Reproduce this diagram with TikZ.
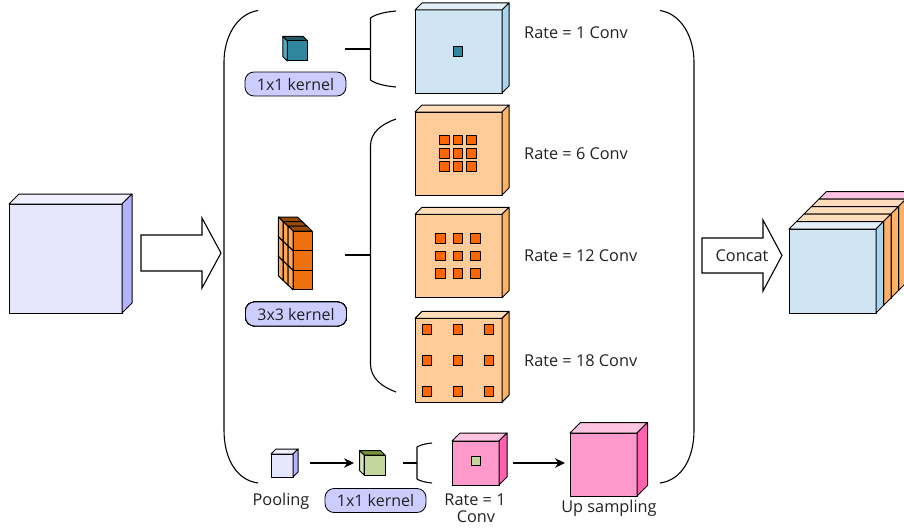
\documentclass[tikz,border=0pt]{standalone}
\usepackage{fontspec}
\setmainfont{Open Sans}
\usetikzlibrary{calc,arrows.meta}
\definecolor{inputfront}{HTML}{E6E6FF}
\definecolor{inputtop}{HTML}{F0F0FF}
\definecolor{inputside}{HTML}{B3B3FF}
\definecolor{bluefront}{HTML}{CFE5F3}
\definecolor{bluetop}{HTML}{E3F0F9}
\definecolor{blueside}{HTML}{A8D4EE}
\definecolor{orangefront}{HTML}{FFCC99}
\definecolor{orangetop}{HTML}{FFDDBB}
\definecolor{orangeside}{HTML}{FFB266}
\definecolor{pinkfront}{HTML}{FF99CC}
\definecolor{pinktop}{HTML}{FFC4E1}
\definecolor{pinkside}{HTML}{FF62AE}
\definecolor{tealfront}{HTML}{31859C}
\definecolor{tealtop}{HTML}{215968}
\definecolor{tealside}{HTML}{4BACC6}
\definecolor{greenfront}{HTML}{C3D69B}
\definecolor{greentop}{HTML}{77933C}
\definecolor{greenside}{HTML}{D7E4BD}
\definecolor{rustfront}{HTML}{EE7110}
\definecolor{rusttop}{HTML}{984807}
\definecolor{rustside}{HTML}{FFA85C}
\definecolor{kernelfill}{HTML}{CCCCFF}
\definecolor{dotfill}{HTML}{FF6600}
\definecolor{ink}{HTML}{222222}
\tikzset{
  face/.style={draw,inner sep=0pt,outer sep=0pt},
  edge/.style={line width=1pt,draw=black,line join=round},
  brace/.style={line width=1.1pt},
  kernel/.style={draw,line width=0.8pt,fill=kernelfill,rounded corners=9pt,minimum width=101pt,minimum height=24pt,inner sep=0pt,text=ink,font=\fontsize{16}{18}\selectfont},
  label/.style={inner sep=0pt,text=ink,font=\fontsize{16.3}{18}\selectfont},
  dot/.style={edge,fill=dotfill,minimum size=9.5pt,inner sep=0pt,outer sep=0pt},
  bigarrow/.style={line width=1.1pt,fill=white,line join=miter},
  flow/.style={-{Stealth[length=10pt,width=9.5pt]},line width=1.1pt},
}
\newcommand{\cuboid}[8]{
  \node[face,edge,fill=#6,minimum width=#3pt,minimum height=#4pt] (#1) at (#2) {};
  \draw[edge,fill=#7] (#1.north west) -- ++(#5,-#5) -- ($(#1.north east)+(#5,-#5)$) -- (#1.north east) -- cycle;
  \draw[edge,fill=#8] (#1.north east) -- ++(#5,-#5) -- ($(#1.south east)+(#5,-#5)$) -- (#1.south east) -- cycle;
}
\newcommand{\cuboidleft}[8]{
  \draw[edge,fill=#7] (#2)++(-#3/2,-#4/2) -- ++(-#5,-#5) -- ++(#3,0) -- ++(#5,#5) -- cycle;
  \draw[edge,fill=#8] (#2)++(-#3/2,-#4/2) -- ++(-#5,-#5) -- ++(0,#4) -- ++(#5,#5) -- cycle;
  \node[face,edge,fill=#6,minimum width=#3pt,minimum height=#4pt] (#1) at (#2) {};
}
\begin{document}
\begin{tikzpicture}[x=1pt,y=-1pt]
\path[use as bounding box,clip] (0,0) rectangle (904,527);

\cuboid{input}{65.5,258.5}{113}{109}{10}{inputfront}{inputtop}{inputside}
\draw[bigarrow] (141,235) -- (202,235) -- (202,218) -- (221,253) -- (202,288) -- (202,271) -- (141,271) -- cycle;

\draw[brace] (258,10.5) .. controls (236,14) and (224,38) .. (224,62) -- (224,430) .. controls (224,458) and (236,480) .. (258,483);
\draw[brace] (660,10.5) .. controls (682,14) and (694,38) .. (694,62) -- (694,430) .. controls (694,458) and (682,480) .. (660,483);

\cuboidleft{kernela}{297.5,51}{20.5}{20}{4.5}{tealfront}{tealtop}{tealside}
\node[kernel] (kernelone) at (295.5,84) {1x1 kernel};
\coordinate (stema) at (345,49);
\coordinate (bracea) at (370.5,49);
\draw[brace] (stema) -- (bracea);
\draw[brace] (396,11) .. controls (385,12) and (376,14) .. (370.5,18) -- (370.5,80) .. controls (376,84) and (385,86) .. (396,87);

\cuboid{ratea}{458.5,51.5}{87}{83}{7}{bluefront}{bluetop}{blueside}
\node[face,edge,fill=tealfront,minimum size=9.5pt] (centera) at (458,51.5) {};
\node[label,anchor=west] (ratealabel) at (524,33) {Rate = 1 Conv};

\foreach \layer in {2,1,0}
  \foreach \row in {2,1,0}
    \cuboidleft{stack\layer\row}{$(302.5,240.8)+(-\layer*4.9,\row*19.6-\layer*4.6)$}{19}{19.6}{4.8}{rustfront}{rusttop}{rustside}
\node[kernel] (kernelthree) at (296,314) {3x3 kernel};
\coordinate (stemb) at (345,255);
\coordinate (braceb) at (370.5,255);
\draw[brace] (stemb) -- (braceb);
\draw[brace] (396,119) .. controls (382,124) and (370.5,132) .. (370.5,146) -- (370.5,364) .. controls (370.5,378) and (382,387) .. (396,392);

\cuboid{rateb}{458.5,153.5}{87}{83}{7}{orangefront}{orangetop}{orangeside}
\foreach \col in {-1,0,1}
  \foreach \row in {-1,0,1}
    \node[dot] (dotb\col\row) at ($(458,153.3)+(\col*13.3,\row*13.3)$) {};
\node[label,anchor=west] (rateblabel) at (524,154) {Rate = 6 Conv};

\cuboid{ratec}{458.5,256}{87}{83.5}{7}{orangefront}{orangetop}{orangeside}
\foreach \col in {-1,0,1}
  \foreach \row in {-1,0,1}
    \node[dot] (dotc\col\row) at ($(458,255.8)+(\col*17.5,\row*17.5)$) {};
\node[label,anchor=west] (rateclabel) at (524,256) {Rate = 12 Conv};

\cuboid{rated}{458.5,360.2}{87}{83.7}{7}{orangefront}{orangetop}{orangeside}
\foreach \col in {-1,0,1}
  \foreach \row in {-1,0,1}
    \node[dot] (dotd\col\row) at ($(458,360.4)+(\col*30.8,\row*31)$) {};
\node[label,anchor=west] (ratedlabel) at (524,361) {Rate = 18 Conv};

\cuboid{pool}{282,465.5}{22}{23}{5}{inputfront}{inputtop}{inputside}
\node[label] (poollabel) at (281,501) {Pooling};
\coordinate (poolout) at (310,463);
\coordinate (kernelin) at (354,463);
\draw[flow] (poolout) -- (kernelin);
\cuboidleft{kernelb}{374.5,465}{21}{20}{4.5}{greenfront}{greentop}{greenside}
\node[kernel] (kerneltwo) at (375.5,500.5) {1x1 kernel};
\coordinate (stemc) at (403,463);
\coordinate (bracec) at (417,463);
\draw[brace] (stemc) -- (bracec);
\draw[brace] (432,443) .. controls (426,443.5) and (420,445) .. (417,447) -- (417,479) .. controls (420,481) and (426,482.5) .. (432,483);

\cuboid{ratee}{475.5,463}{47}{44}{8}{pinkfront}{pinktop}{pinkside}
\node[face,edge,fill=greenfront,minimum size=9pt] (centere) at (475.5,460.5) {};
\node[label] (rateelabel) at (475,499.5) {Rate = 1};
\node[label] (convlabel) at (476,517) {Conv};
\coordinate (rateout) at (513,463);
\coordinate (upin) at (565,463);
\draw[flow] (rateout) -- (upin);
\cuboid{up}{603.5,464.5}{67}{63}{10.5}{pinkfront}{pinktop}{pinkside}
\node[label] (uplabel) at (609,508.5) {Up sampling};

\draw[bigarrow] (702,238) -- (763,238) -- (763,220) -- (782,255.5) -- (763,291) -- (763,273) -- (702,273) -- cycle;
\node[label] (concatlabel) at (742,256) {Concat};

\cuboid{stacke}{$(832.5,271)+(30,-30)$}{87}{84}{7.5}{pinkfront}{pinktop}{orangeside}
\cuboid{stackd}{$(832.5,271)+(22.5,-22.5)$}{87}{84}{7.5}{orangefront}{orangetop}{orangeside}
\cuboid{stackc}{$(832.5,271)+(15,-15)$}{87}{84}{7.5}{orangefront}{orangetop}{orangeside}
\cuboid{stackb}{$(832.5,271)+(7.5,-7.5)$}{87}{84}{7.5}{orangefront}{orangetop}{orangeside}
\cuboid{stacka}{832.5,271}{87}{84}{7.5}{bluefront}{bluetop}{blueside}
\end{tikzpicture}
\end{document}
